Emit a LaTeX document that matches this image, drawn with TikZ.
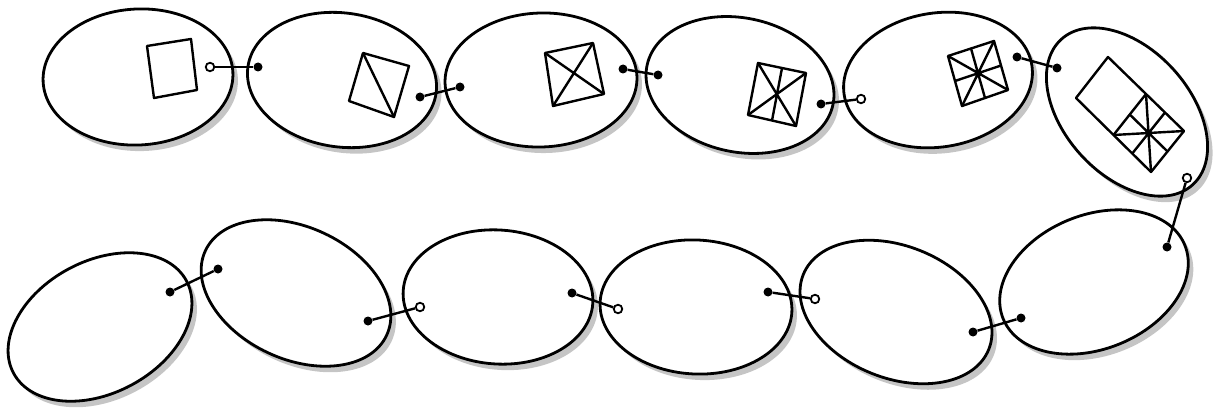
\documentclass[tikz,border=0pt]{standalone}
\usetikzlibrary{shapes.geometric,shadows,calc}
\begin{document}
\begin{tikzpicture}[x=1pt,y=-1pt,
  link/.style={ellipse, draw, line width=2.8pt, fill=white, inner sep=0pt,
    drop shadow={shadow xshift=5pt, shadow yshift=-6pt, fill=black!45}},
  capdot/.style={circle, fill=black, inner sep=0pt, minimum size=9pt},
  capring/.style={circle, draw, fill=white, line width=1.8pt, inner sep=0pt, minimum size=8.5pt},
  wire/.style={line width=2.4pt},
  fig/.style={line width=2.4pt, line join=round}]
\useasboundingbox (0,0) rectangle (1215,409);

% top row
\node[link, minimum width=190pt, minimum height=136pt, rotate=3]   (e1) at (138,77) {};
\node[link, minimum width=190pt, minimum height=134pt, rotate=-8]  (e2) at (342,80) {};
\node[link, minimum width=192pt, minimum height=134pt, rotate=2]   (e3) at (541,80) {};
\node[link, minimum width=190pt, minimum height=134pt, rotate=-12] (e4) at (740,85) {};
\node[link, minimum width=190pt, minimum height=134pt, rotate=9]   (e5) at (938,80) {};
\node[link, minimum width=196pt, minimum height=126pt, rotate=-48] (e6) at (1127,112) {};
% bottom row
\node[link, minimum width=196pt, minimum height=132pt, rotate=28]  (b1) at (100,327) {};
\node[link, minimum width=200pt, minimum height=132pt, rotate=-25] (b2) at (296,293) {};
\node[link, minimum width=190pt, minimum height=134pt, rotate=-4]  (b3) at (498,297) {};
\node[link, minimum width=192pt, minimum height=134pt, rotate=-3]  (b4) at (696,307) {};
\node[link, minimum width=200pt, minimum height=132pt, rotate=-22] (b5) at (896,312) {};
\node[link, minimum width=196pt, minimum height=134pt, rotate=22]  (b6) at (1094,282) {};

% figures
\draw[fig] (147,46) -- (191,39) -- (197,90) -- (154,98) -- cycle;

\draw[fig] (363,53) -- (409,66) -- (394,117) -- (349,101) -- cycle;
\draw[fig] (363,53) -- (394,117);

\draw[fig] (545,53) -- (593,43) -- (604,94) -- (553,106) -- cycle;
\draw[fig] (545,53) -- (604,94) (593,43) -- (553,106);

\coordinate (a4) at (758,63); \coordinate (b4c) at (806,73);
\coordinate (c4) at (796,126); \coordinate (d4) at (748,115);
\draw[fig] (a4) -- (b4c) -- (c4) -- (d4) -- cycle;
\draw[fig] (a4) -- (c4) (b4c) -- (d4) ($(a4)!.5!(b4c)$) -- ($(d4)!.5!(c4)$);

\coordinate (a5) at (948,56); \coordinate (b5c) at (994,41);
\coordinate (c5) at (1008,90); \coordinate (d5) at (962,106);
\draw[fig] (a5) -- (b5c) -- (c5) -- (d5) -- cycle;
\draw[fig] (a5) -- (c5) (b5c) -- (d5)
  ($(a5)!.5!(b5c)$) -- ($(d5)!.5!(c5)$) ($(b5c)!.5!(c5)$) -- ($(a5)!.5!(d5)$);

\coordinate (r1) at (1108,57); \coordinate (r2) at (1184,131);
\coordinate (r3) at (1151,172); \coordinate (r4) at (1076,98);
\coordinate (m1) at ($(r1)!.5!(r2)$); \coordinate (m2) at ($(r4)!.5!(r3)$);
\draw[fig] (r1) -- (r2) -- (r3) -- (r4) -- cycle;
\draw[fig] (m1) -- (m2);
\draw[fig] (m1) -- (r3) (r2) -- (m2)
  ($(m1)!.5!(r2)$) -- ($(m2)!.5!(r3)$) ($(r2)!.5!(r3)$) -- ($(m1)!.5!(m2)$);

% connector caps
\node[capring] (k1a) at (210,67) {};  \node[capdot] (k1b) at (258,67) {};
\node[capdot]  (k2a) at (420,97) {};  \node[capdot] (k2b) at (460,87) {};
\node[capdot]  (k3a) at (623,69) {};  \node[capdot] (k3b) at (658,75) {};
\node[capdot]  (k4a) at (821,104) {}; \node[capring] (k4b) at (861,99) {};
\node[capdot]  (k5a) at (1017,57) {}; \node[capdot] (k5b) at (1057,68) {};
\node[capring] (k6a) at (1187,178) {};\node[capdot] (k6b) at (1167,247) {};
\node[capdot]  (k7a) at (1021,318) {};\node[capdot] (k7b) at (973,332) {};
\node[capring] (k8a) at (815,299) {}; \node[capdot] (k8b) at (768,292) {};
\node[capring] (k9a) at (618,309) {}; \node[capdot] (k9b) at (572,293) {};
\node[capring] (k10a) at (420,307) {};\node[capdot] (k10b) at (368,321) {};
\node[capdot]  (k11a) at (218,269) {};\node[capdot] (k11b) at (170,292) {};

% wires
\foreach \i in {1,...,11} \draw[wire] (k\i a) -- (k\i b);
\end{tikzpicture}
\end{document}
